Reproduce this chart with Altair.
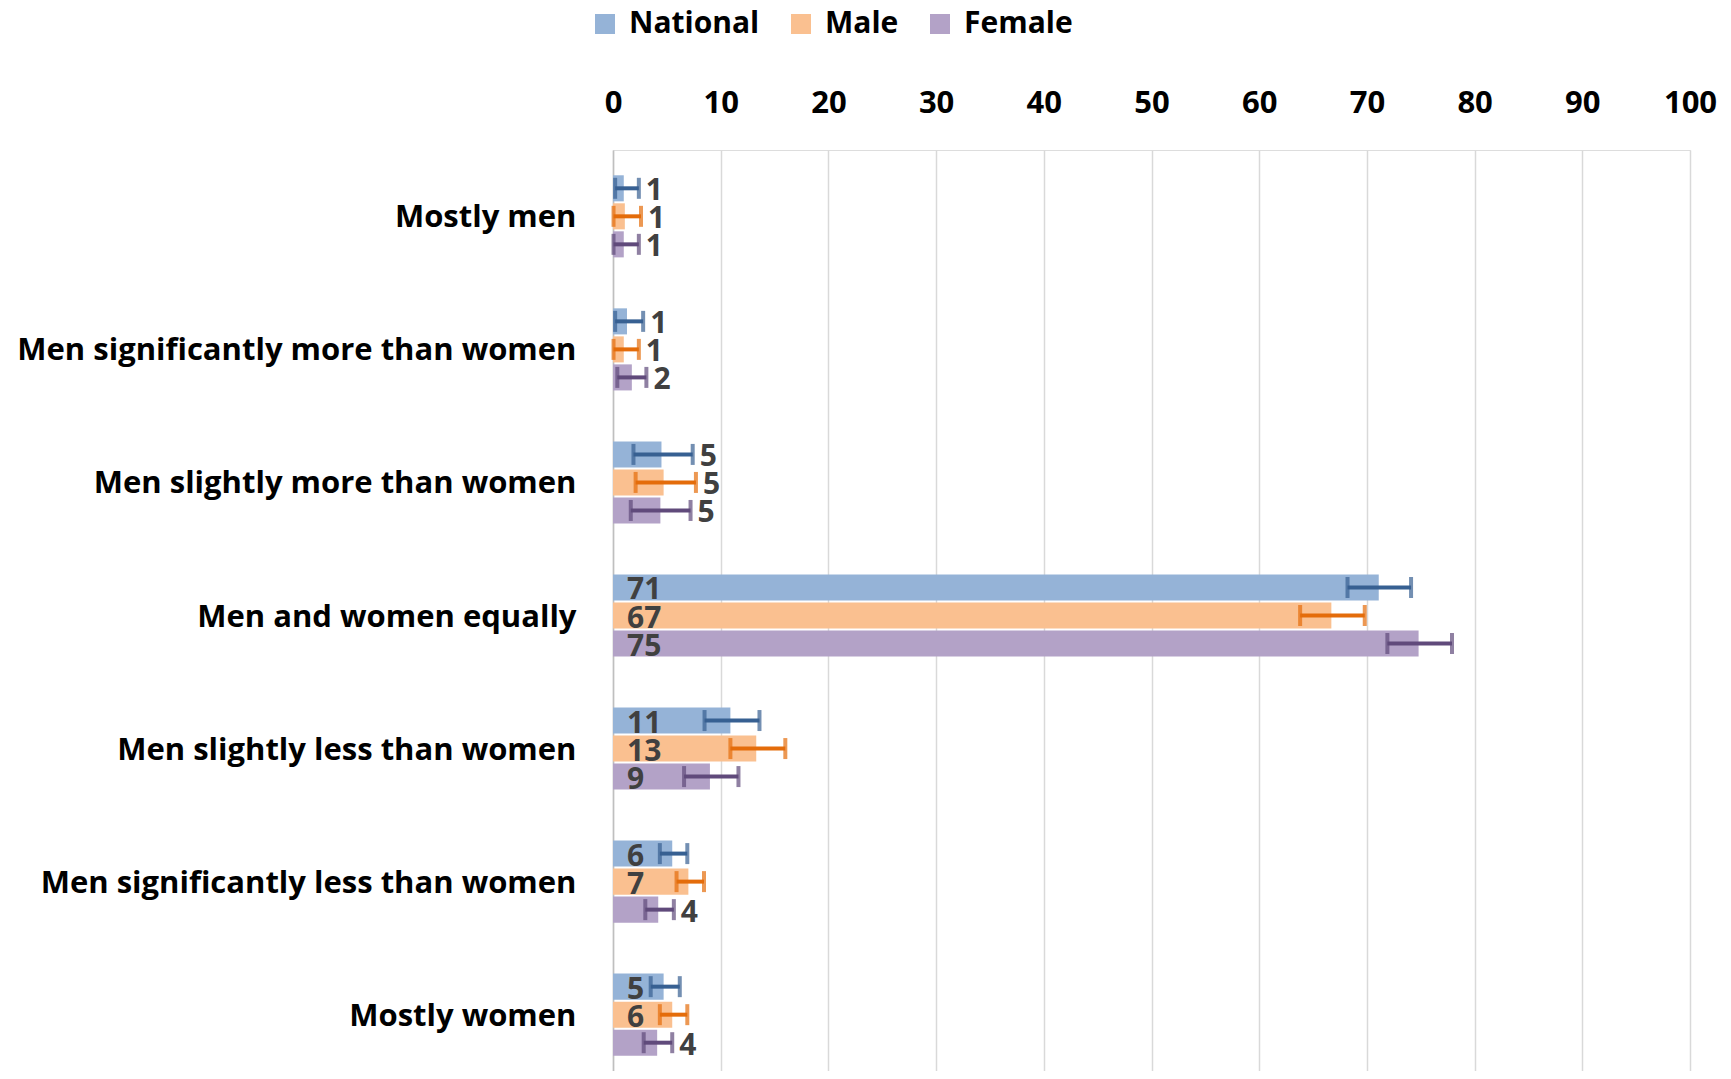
import altair as alt
import pandas as pd

FONT = "Open Sans"

categories = [
    "Mostly men",
    "Men significantly more than women",
    "Men slightly more than women",
    "Men and women equally",
    "Men slightly less than women",
    "Men significantly less than women",
    "Mostly women",
]
series = ["National", "Male", "Female"]

national_val = [1.0, 1.3, 4.5, 71.1, 10.9, 5.5, 4.7]
national_low = [0.2, 0.2, 1.9, 68.2, 8.5, 4.35, 3.5]
national_high = [2.4, 2.8, 7.4, 74.1, 13.6, 6.9, 6.2]
national_lab = [1, 1, 5, 71, 11, 6, 5]

male_val = [1.1, 1.0, 4.7, 66.7, 13.3, 7.0, 5.5]
male_low = [0.05, 0.05, 2.1, 63.8, 10.9, 5.9, 4.35]
male_high = [2.6, 2.4, 7.7, 69.8, 16.0, 8.45, 6.9]
male_lab = [1, 1, 5, 67, 13, 7, 6]

female_val = [1.0, 1.75, 4.4, 74.8, 9.0, 4.2, 4.1]
female_low = [0.05, 0.4, 1.65, 71.9, 6.6, 3.0, 2.85]
female_high = [2.4, 3.1, 7.2, 77.9, 11.65, 5.65, 5.5]
female_lab = [1, 2, 5, 75, 9, 4, 4]

# where each data label sits: inside the bar base or past the error bar
national_place = ["out", "out", "out", "in", "in", "in", "in"]
male_place = ["out", "out", "out", "in", "in", "in", "in"]
female_place = ["out", "out", "out", "in", "in", "out", "out"]

bar_colors = ["#95B3D7", "#FAC090", "#B3A2C7"]
err_colors = ["#376092", "#E46C0A", "#604A7B"]

rows = []
for s, vals, lows, highs, labs, places in [
    ("National", national_val, national_low, national_high, national_lab, national_place),
    ("Male", male_val, male_low, male_high, male_lab, male_place),
    ("Female", female_val, female_low, female_high, female_lab, female_place),
]:
    for c, v, lo, hi, lb, pl in zip(categories, vals, lows, highs, labs, places):
        rows.append(dict(category=c, series=s, value=v, low=lo, high=hi,
                         label=str(lb), place=pl,
                         label_x=0 if pl == "in" else hi))
df = pd.DataFrame(rows)

y = alt.Y(
    "category:N", sort=categories,
    scale=alt.Scale(range=[0, 931], paddingInner=0.383, paddingOuter=0.19),
    axis=alt.Axis(title=None, labelFont=FONT, labelFontSize=31, labelFontWeight="bold",
                  labelColor="#000000", labelPadding=37, labelOffset=2, ticks=False, tickSize=0,
                  domainColor="#BFBFBF", domainWidth=1.5, grid=False, labelLimit=0),
)
yoff = alt.YOffset("series:N", sort=series, scale=alt.Scale(paddingInner=0.07, paddingOuter=0))
xscale = alt.Scale(domain=[0, 100], nice=False)

base = alt.Chart(df)

bars = base.mark_bar().encode(
    x=alt.X("value:Q", scale=xscale,
            axis=alt.Axis(orient="top", values=list(range(0, 101, 10)), title=None,
                          labelFont=FONT, labelFontSize=31, labelFontWeight="bold",
                          labelColor="#000000", labelPadding=31, labelFlush=False,
                          ticks=False, tickSize=0,
                          domain=False, grid=True, gridColor="#D9D9D9", gridWidth=1.5)),
    y=y,
    yOffset=yoff,
    color=alt.Color("series:N", sort=series,
                    scale=alt.Scale(domain=series, range=bar_colors),
                    legend=alt.Legend(title=None, orient="none", direction="horizontal",
                                      legendX=-23, legendY=-141, padding=0,
                                      symbolType="square", symbolSize=400, symbolStrokeWidth=0,
                                      labelFont=FONT, labelFontSize=30, labelFontWeight="bold",
                                      labelColor="#000000", labelOffset=9, columnPadding=26,
                                      labelLimit=0)),
)

errc = alt.Color("series:N", sort=series, scale=alt.Scale(domain=series, range=err_colors), legend=None)

rules = base.mark_rule(strokeWidth=4).encode(
    x=alt.X("low:Q", scale=xscale), x2="high:Q", y=y, yOffset=yoff, color=errc)
cap_lo = base.mark_tick(thickness=4, size=21).encode(
    x=alt.X("low:Q", scale=xscale), y=y, yOffset=yoff, color=errc)
cap_hi = base.mark_tick(thickness=4, size=21).encode(
    x=alt.X("high:Q", scale=xscale), y=y, yOffset=yoff, color=errc)

txt_in = base.transform_filter(alt.datum.place == "in").mark_text(
    align="left", baseline="middle", dx=14, dy=3, font=FONT, fontSize=30,
    fontWeight="bold", color="#404040").encode(
    x=alt.X("label_x:Q", scale=xscale), y=y, yOffset=yoff, text="label:N")
txt_out = base.transform_filter(alt.datum.place == "out").mark_text(
    align="left", baseline="middle", dx=7, dy=3, font=FONT, fontSize=30,
    fontWeight="bold", color="#404040").encode(
    x=alt.X("label_x:Q", scale=xscale), y=y, yOffset=yoff, text="label:N")

chart = alt.layer(bars, rules, cap_lo, cap_hi, txt_in, txt_out).resolve_scale(
    color="independent"
).properties(
    width=1077, height=921,
    padding={"left": 605, "top": 142, "right": 30, "bottom": 0},
    autosize=alt.AutoSizeParams(type="none"),
).configure_view(stroke=None).configure(background="white")

chart.save("out.html", embed_options={"renderer": "svg", "actions": False})
